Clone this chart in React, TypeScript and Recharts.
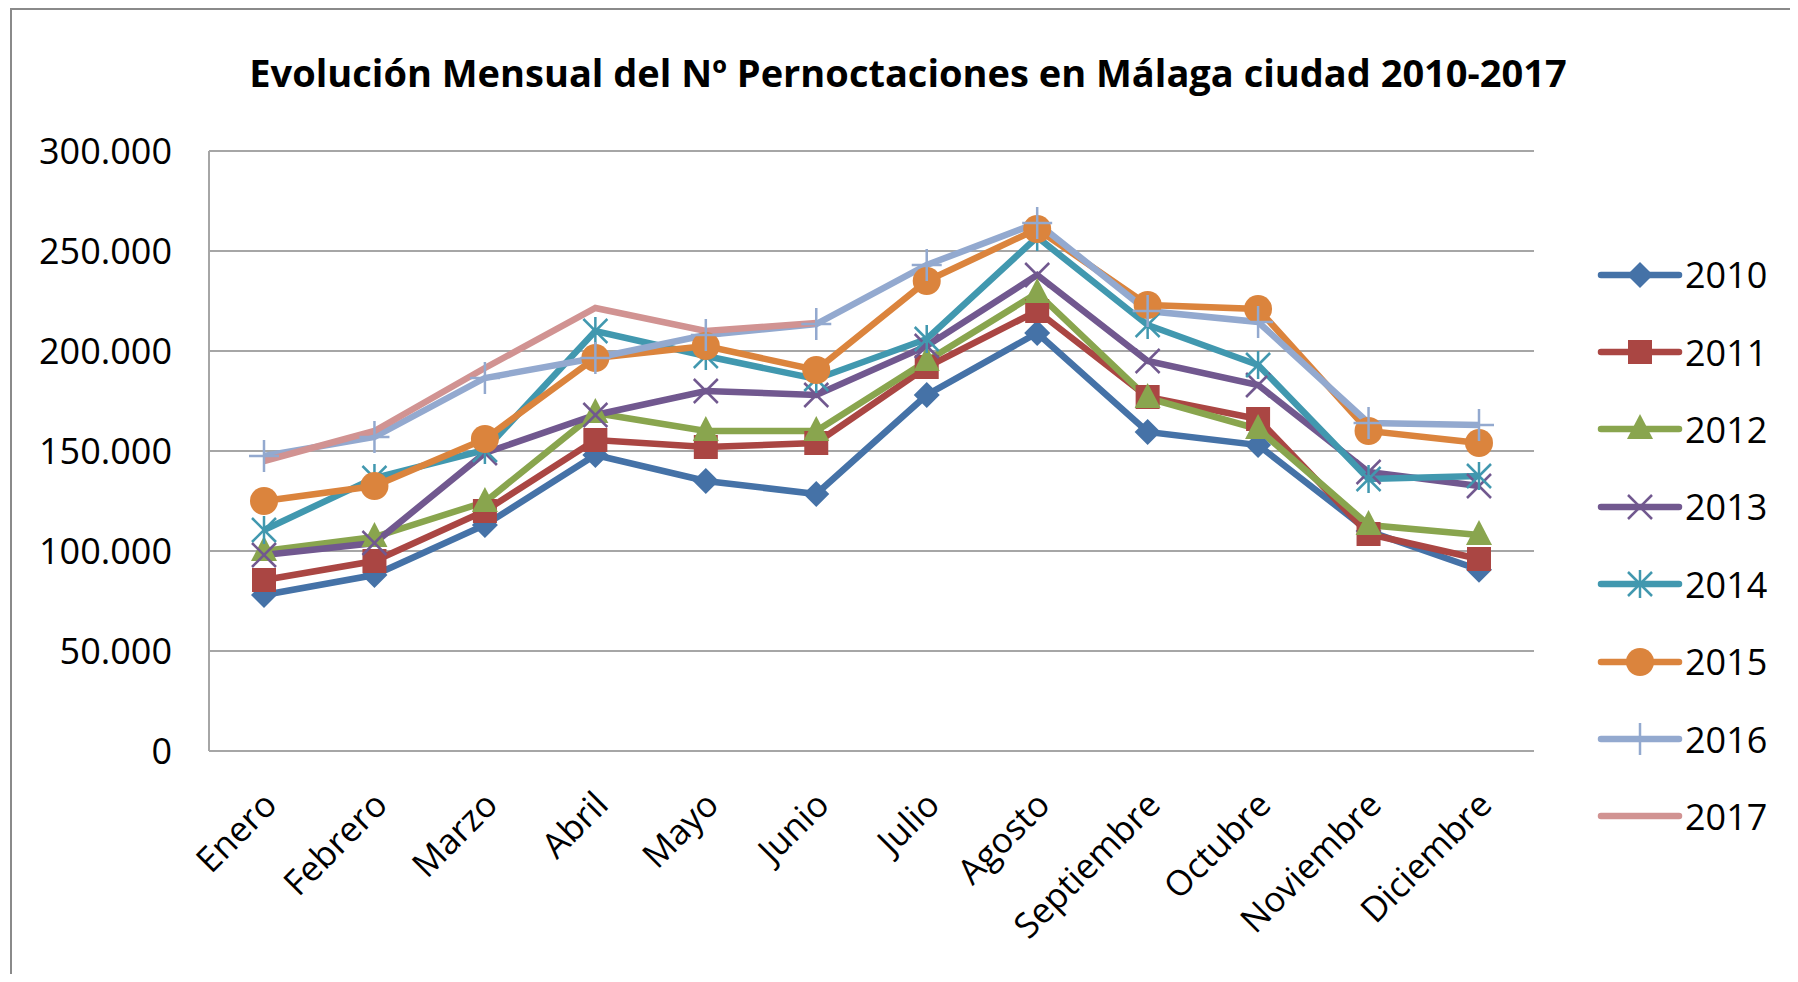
import React from "react";
import { LineChart, Line, XAxis, YAxis, CartesianGrid, Legend } from "recharts";

const months = [
  "Enero", "Febrero", "Marzo", "Abril", "Mayo", "Junio",
  "Julio", "Agosto", "Septiembre", "Octubre", "Noviembre", "Diciembre",
];

const y2010 = [78000, 88000, 113000, 148000, 135000, 128500, 178000, 209000, 159500, 153000, 110000, 90600];
const y2011 = [85500, 95000, 120000, 155500, 152000, 154000, 192000, 220000, 177000, 166000, 108500, 96000];
const y2012 = [100000, 107000, 124500, 169000, 160000, 160000, 195000, 229000, 176500, 161000, 113000, 108000];
const y2013 = [98000, 104000, 149000, 168000, 180000, 178000, 202500, 238000, 195000, 183000, 139500, 132500];
const y2014 = [110500, 136500, 150500, 210000, 197500, 186000, 206000, 257000, 213000, 193000, 136000, 137500];
const y2015 = [125000, 132500, 156000, 196500, 202500, 190500, 235000, 261000, 223000, 221000, 160000, 154000];
const y2016 = [147500, 157000, 186500, 196500, 208000, 213500, 243000, 264000, 220000, 214500, 164000, 163000];
const y2017 = [145000, 160000, 191500, 221500, 210000, 214000, null, null, null, null, null, null];

const yTicks = [0, 50000, 100000, 150000, 200000, 250000, 300000];

const series = [
  { key: "2010", values: y2010, color: "#4572a7", shape: "diamond" },
  { key: "2011", values: y2011, color: "#aa4643", shape: "square" },
  { key: "2012", values: y2012, color: "#89a54e", shape: "triangle" },
  { key: "2013", values: y2013, color: "#71588f", shape: "x" },
  { key: "2014", values: y2014, color: "#4198af", shape: "star" },
  { key: "2015", values: y2015, color: "#db843d", shape: "circle" },
  { key: "2016", values: y2016, color: "#93a9cf", shape: "plus" },
  { key: "2017", values: y2017, color: "#d19392", shape: "none" },
];

const data = months.map((m, i) => {
  const row: Record<string, any> = { month: m };
  series.forEach((s) => (row[s.key] = s.values[i]));
  return row;
});

const FONT = "'Open Sans', sans-serif";

function marker(shape: string, color: string, cx: number, cy: number, k?: any) {
  switch (shape) {
    case "diamond":
      return <polygon key={k} points={`${cx},${cy - 13} ${cx + 13},${cy} ${cx},${cy + 13} ${cx - 13},${cy}`} fill={color} />;
    case "square":
      return <rect key={k} x={cx - 12} y={cy - 12} width={24} height={24} fill={color} />;
    case "triangle":
      return <polygon key={k} points={`${cx},${cy - 15} ${cx + 13},${cy + 10} ${cx - 13},${cy + 10}`} fill={color} />;
    case "x":
      return (
        <g key={k} stroke={color} strokeWidth={2.5}>
          <line x1={cx - 12} y1={cy - 12} x2={cx + 12} y2={cy + 12} />
          <line x1={cx - 12} y1={cy + 12} x2={cx + 12} y2={cy - 12} />
        </g>
      );
    case "star":
      return (
        <g key={k} stroke={color} strokeWidth={2.5}>
          <line x1={cx - 12} y1={cy - 12} x2={cx + 12} y2={cy + 12} />
          <line x1={cx - 12} y1={cy + 12} x2={cx + 12} y2={cy - 12} />
          <line x1={cx} y1={cy - 14} x2={cx} y2={cy + 14} />
        </g>
      );
    case "circle":
      return <circle key={k} cx={cx} cy={cy} r={14} fill={color} />;
    case "plus":
      return (
        <g key={k} stroke={color} strokeWidth={2.5}>
          <line x1={cx} y1={cy - 16} x2={cx} y2={cy + 16} />
          <line x1={cx - 15} y1={cy} x2={cx + 15} y2={cy} />
        </g>
      );
    default:
      return <g key={k} />;
  }
}

const makeDot = (shape: string, color: string) => (props: any) => {
  const { cx, cy, index, dataKey } = props;
  const k = `${dataKey}-${index}`;
  if (cx == null || cy == null || shape === "none") return <g key={k} />;
  return marker(shape, color, cx, cy, k);
};

const MonthTick = (props: any) => {
  const { x, y, payload } = props;
  return (
    <g transform={`translate(${x - 3},${y + 38})`}>
      <text
        x={0}
        y={0}
        dy="0.72em"
        textAnchor="end"
        transform="rotate(-45)"
        fontSize={35}
        fontFamily={FONT}
        fill="#000"
      >
        {payload.value}
      </text>
    </g>
  );
};

const fmt = (v: number) => (v === 0 ? "0" : `${v / 1000}.000`);

const LegendBox = () => (
  <div style={{ width: 264, paddingLeft: 63, boxSizing: "border-box", fontFamily: FONT }}>
    {series.map((s) => (
      <div key={s.key} style={{ display: "flex", alignItems: "center", height: 77.4 }}>
        <svg width={86} height={40}>
          <line x1={4} y1={20} x2={82} y2={20} stroke={s.color} strokeWidth={6.5} strokeLinecap="round" />
          {marker(s.shape, s.color, 43, 20)}
        </svg>
        <span style={{ fontSize: 36, color: "#000", marginLeft: 2 }}>{s.key}</span>
      </div>
    ))}
  </div>
);

export default function App() {
  return (
    <div style={{ position: "relative", width: 1798, height: 982, margin: -8, overflow: "hidden", background: "#fff" }}>
      <div
        style={{
          position: "absolute",
          left: 10,
          top: 8,
          width: 1786,
          height: 1100,
          border: "2.5px solid #8a8a8a",
          boxSizing: "border-box",
        }}
      />
      <div
        style={{
          position: "absolute",
          left: 0,
          width: 1816,
          top: 46,
          textAlign: "center",
          fontFamily: FONT,
          fontWeight: 700,
          fontSize: 38,
          color: "#000",
          lineHeight: "52px",
        }}
      >
        Evolución Mensual del Nº Pernoctaciones en Málaga ciudad 2010-2017
      </div>
      <div style={{ position: "absolute", left: 0, top: 0 }}>
        <LineChart width={1798} height={982} data={data} margin={{ top: 151, right: 0, bottom: 0, left: 0 }}>
          <CartesianGrid horizontal vertical={false} stroke="#a6a6a6" strokeWidth={2} />
          <XAxis
            dataKey="month"
            interval={0}
            tickLine={false}
            tickSize={0}
            tickMargin={0}
            height={231}
            padding={{ left: 55, right: 55 }}
            axisLine={{ stroke: "#a6a6a6", strokeWidth: 2 }}
            tick={<MonthTick />}
          />
          <YAxis
            width={209}
            domain={[0, 300000]}
            ticks={yTicks}
            tickFormatter={fmt}
            tickLine={false}
            tickSize={0}
            tickMargin={37}
            axisLine={{ stroke: "#a6a6a6", strokeWidth: 2 }}
            tick={{ fontSize: 36, fontFamily: FONT, fill: "#000" }}
          />
          <Legend
            layout="vertical"
            align="right"
            verticalAlign="top"
            wrapperStyle={{ top: 236 }}
            content={() => <LegendBox />}
          />
          {series.map((s) => (
            <Line
              key={s.key}
              dataKey={s.key}
              stroke={s.color}
              strokeWidth={6.5}
              dot={makeDot(s.shape, s.color)}
              activeDot={false}
              isAnimationActive={false}
              connectNulls={false}
            />
          ))}
        </LineChart>
      </div>
    </div>
  );
}
